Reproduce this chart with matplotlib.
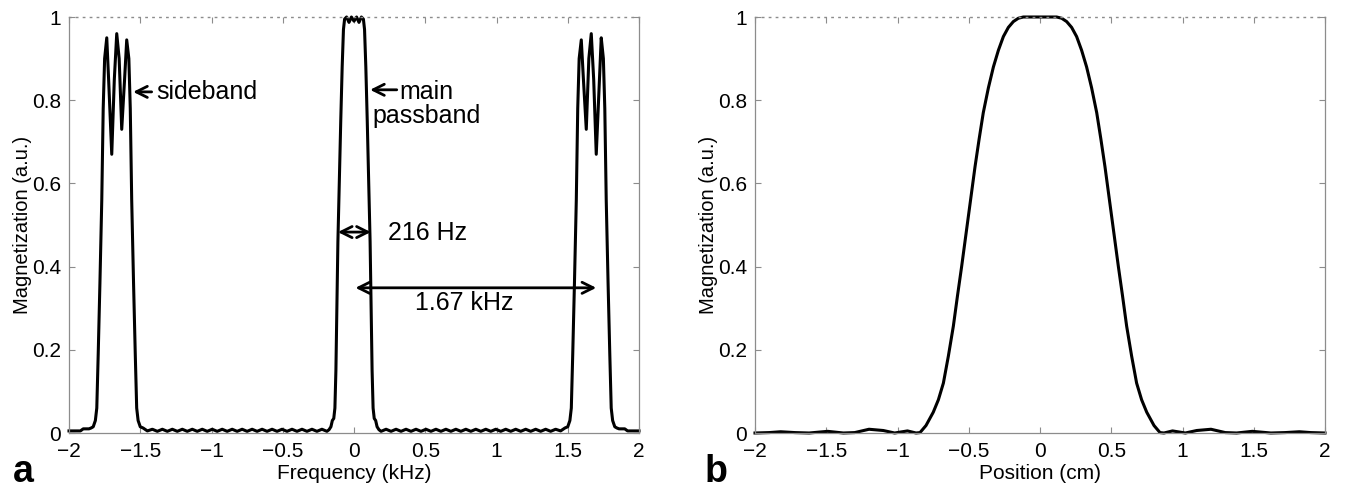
from matplotlib import pyplot as plt
from matplotlib.ticker import FuncFormatter

plt.rcParams['font.family'] = ['Liberation Sans', 'DejaVu Sans']

# (a) frequency profile
freq_khz = [-2.000, -1.920, -1.900, -1.860, -1.845,
            -1.830, -1.815, -1.805, -1.795, -1.783, -1.770, -1.760, -1.750, -1.735, -1.722,
            -1.700, -1.682, -1.665, -1.648, -1.630, -1.610, -1.595, -1.580, -1.570, -1.560,
            -1.547, -1.535, -1.525, -1.515, -1.500, -1.480, -1.450,
            -1.415, -1.380, -1.345, -1.310, -1.275, -1.240, -1.205, -1.170, -1.135, -1.100,
            -1.065, -1.030, -0.995, -0.960, -0.925, -0.890, -0.855, -0.820, -0.785, -0.750,
            -0.715, -0.680, -0.645, -0.610, -0.575, -0.540, -0.505, -0.470, -0.435, -0.400,
            -0.365, -0.330, -0.295, -0.260, -0.225, -0.190,
            -0.175, -0.162, -0.152, -0.142, -0.134, -0.127, -0.120, -0.113, -0.105, -0.093,
            -0.083, -0.074, -0.066, -0.052, -0.035, -0.018, 0.000,
            0.018, 0.035, 0.052, 0.066, 0.074, 0.083, 0.093, 0.105, 0.113, 0.120,
            0.127, 0.134, 0.142, 0.152, 0.162, 0.175,
            0.190, 0.225, 0.260, 0.295, 0.330, 0.365, 0.400, 0.435, 0.470, 0.505,
            0.540, 0.575, 0.610, 0.645, 0.680, 0.715, 0.750, 0.785, 0.820, 0.855,
            0.890, 0.925, 0.960, 0.995, 1.030, 1.065, 1.100, 1.135, 1.170, 1.205,
            1.240, 1.275, 1.310, 1.345, 1.380, 1.415,
            1.450, 1.480, 1.500, 1.515, 1.525, 1.535, 1.547, 1.560, 1.570, 1.580,
            1.595, 1.610, 1.630, 1.648, 1.665, 1.682, 1.700, 1.722, 1.735, 1.750,
            1.760, 1.770, 1.783, 1.795, 1.805, 1.815, 1.830,
            1.845, 1.860, 1.900, 1.920, 2.000]
mag_freq = [0.005, 0.005, 0.010, 0.010, 0.012,
            0.015, 0.030, 0.060, 0.190, 0.360, 0.560, 0.780, 0.900, 0.950, 0.850,
            0.670, 0.850, 0.960, 0.900, 0.730, 0.850, 0.945, 0.900, 0.780, 0.560,
            0.360, 0.190, 0.060, 0.030, 0.015, 0.012, 0.005,
            0.009, 0.004, 0.009, 0.004, 0.009, 0.004, 0.009, 0.004, 0.009, 0.004,
            0.009, 0.004, 0.009, 0.004, 0.009, 0.004, 0.009, 0.004, 0.009, 0.004,
            0.009, 0.004, 0.009, 0.004, 0.009, 0.004, 0.009, 0.004, 0.009, 0.004,
            0.009, 0.004, 0.009, 0.004, 0.009, 0.004,
            0.008, 0.015, 0.030, 0.035, 0.060, 0.150, 0.300, 0.460, 0.580, 0.750,
            0.880, 0.970, 0.995, 1.000, 0.987, 1.000, 0.990,
            1.000, 0.987, 1.000, 0.995, 0.970, 0.880, 0.750, 0.580, 0.460, 0.300,
            0.150, 0.060, 0.035, 0.030, 0.015, 0.008,
            0.004, 0.009, 0.004, 0.009, 0.004, 0.009, 0.004, 0.009, 0.004, 0.009,
            0.004, 0.009, 0.004, 0.009, 0.004, 0.009, 0.004, 0.009, 0.004, 0.009,
            0.004, 0.009, 0.004, 0.009, 0.004, 0.009, 0.004, 0.009, 0.004, 0.009,
            0.004, 0.009, 0.004, 0.009, 0.004, 0.009,
            0.005, 0.012, 0.015, 0.030, 0.060, 0.190, 0.360, 0.560, 0.780, 0.900,
            0.945, 0.850, 0.730, 0.900, 0.960, 0.850, 0.670, 0.850, 0.950, 0.900,
            0.780, 0.560, 0.360, 0.190, 0.060, 0.030, 0.015,
            0.012, 0.010, 0.010, 0.005, 0.005]

# (b) slice profile
pos_cm = [-2.00, -1.90, -1.82, -1.72, -1.62, -1.49, -1.38, -1.30, -1.20, -1.10,
          -1.02, -0.93, -0.87, -0.842, -0.80, -0.749, -0.713, -0.678, -0.643, -0.608,
          -0.579, -0.55, -0.503, -0.456, -0.427, -0.398, -0.362, -0.327, -0.292, -0.257,
          -0.222, -0.187, -0.152, -0.117, -0.06, 0.00,
          0.06, 0.117, 0.152, 0.187, 0.222, 0.257, 0.292, 0.327, 0.362, 0.398,
          0.427, 0.456, 0.503, 0.55, 0.579, 0.608, 0.643, 0.678, 0.713, 0.749,
          0.80, 0.842, 0.87, 0.93, 1.02, 1.10, 1.20, 1.30, 1.38, 1.49,
          1.62, 1.72, 1.82, 1.90, 2.00]
mag_pos = [0.000, 0.001, 0.003, 0.001, 0.000, 0.004, 0.000, 0.001, 0.009, 0.006,
           0.000, 0.005, 0.000, 0.001, 0.018, 0.050, 0.080, 0.120, 0.185, 0.257,
           0.330, 0.400, 0.520, 0.640, 0.707, 0.770, 0.830, 0.880, 0.920, 0.953,
           0.975, 0.989, 0.997, 1.000, 1.000, 1.000,
           1.000, 1.000, 0.997, 0.989, 0.975, 0.953, 0.920, 0.880, 0.830, 0.770,
           0.707, 0.640, 0.520, 0.400, 0.330, 0.257, 0.185, 0.120, 0.080, 0.050,
           0.018, 0.001, 0.000, 0.005, 0.000, 0.006, 0.009, 0.001, 0.000, 0.004,
           0.000, 0.001, 0.003, 0.001, 0.000]

x_ticks = [-2, -1.5, -1, -0.5, 0, 0.5, 1, 1.5, 2]
y_ticks = [0, 0.2, 0.4, 0.6, 0.8, 1]

gray = '#8c8c8c'
fmt = FuncFormatter(lambda v, p: ('%g' % v).replace('-', '\u2212'))

fig = plt.figure(figsize=(13.49, 4.9), dpi=100)
ax1 = fig.add_axes([69 / 1349, 57 / 490, 570 / 1349, 416 / 490])
ax2 = fig.add_axes([755 / 1349, 57 / 490, 570 / 1349, 416 / 490])


def style(ax, xlabel):
    ax.set_xlim(-2, 2)
    ax.set_ylim(0, 1)
    ax.set_xticks(x_ticks)
    ax.set_yticks(y_ticks)
    ax.xaxis.set_major_formatter(fmt)
    ax.yaxis.set_major_formatter(fmt)
    ax.tick_params(direction='in', top=True, right=True, length=4, width=0.8,
                   color=gray, labelsize=15, labelcolor='k')
    ax.tick_params(axis='x', pad=6.5)
    ax.tick_params(axis='y', pad=5.5)
    for s in ['left', 'right', 'bottom']:
        ax.spines[s].set_color(gray)
        ax.spines[s].set_linewidth(0.9)
    ax.spines['top'].set_color(gray)
    ax.spines['top'].set_linewidth(1.0)
    ax.spines['top'].set_linestyle((0, (1, 4)))
    ax.set_xlabel(xlabel, fontsize=15, labelpad=2)
    ax.set_ylabel('Magnetization (a.u.)', fontsize=14.5, labelpad=0)


ax1.plot(freq_khz, mag_freq, color='k', lw=2.2, clip_on=False, solid_joinstyle='round')
style(ax1, 'Frequency (kHz)')
ax2.plot(pos_cm, mag_pos, color='k', lw=2.2, clip_on=False, solid_joinstyle='round')
style(ax2, 'Position (cm)')

arrow = dict(arrowstyle='->', lw=2, color='k', shrinkA=0, shrinkB=0, mutation_scale=20)
arrow2 = dict(arrowstyle='<->', lw=2, color='k', shrinkA=0, shrinkB=0, mutation_scale=20)

ax1.annotate('', xy=(-1.55, 0.82), xytext=(-1.42, 0.82), arrowprops=arrow)
ax1.text(-1.39, 0.82, 'sideband', fontsize=18, ha='left', va='center')
ax1.annotate('', xy=(0.113, 0.825), xytext=(0.30, 0.825), arrowprops=arrow)
ax1.text(0.507, 0.79, 'main\npassband', fontsize=18, ha='center', va='center',
         linespacing=1.0)
ax1.annotate('', xy=(-0.113, 0.483), xytext=(0.118, 0.483), arrowprops=arrow2)
ax1.text(0.239, 0.481, '216 Hz', fontsize=18, ha='left', va='center')
ax1.annotate('', xy=(0.01, 0.349), xytext=(1.70, 0.349), arrowprops=arrow2)
ax1.text(0.775, 0.3125, '1.67 kHz', fontsize=18, ha='center', va='center')

fig.text(13 / 1349, 8 / 490, 'a', fontsize=27, fontweight='bold', ha='left', va='baseline')
fig.text(705 / 1349, 8 / 490, 'b', fontsize=27, fontweight='bold', ha='left', va='baseline')

plt.savefig('out.png', dpi=100)
